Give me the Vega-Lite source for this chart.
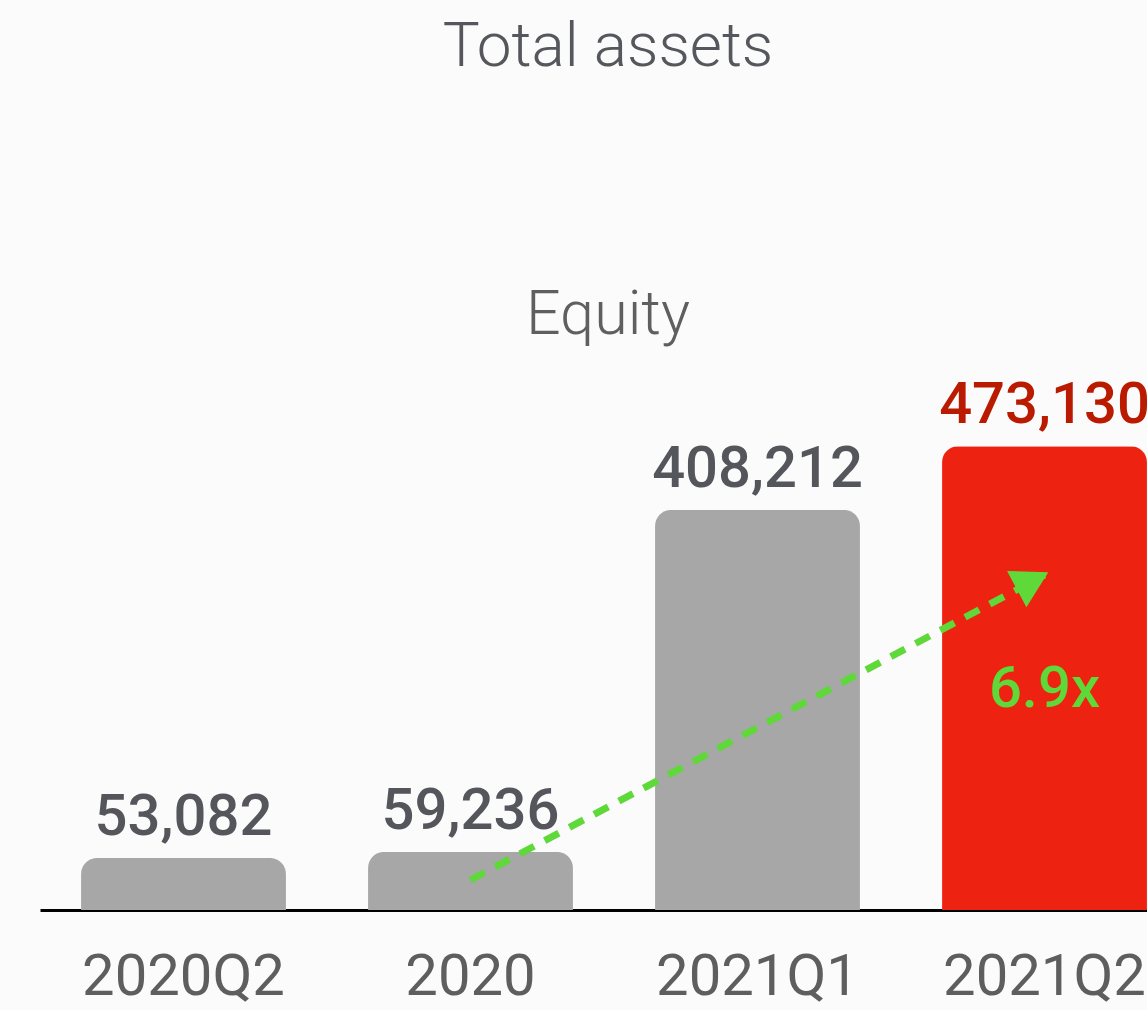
{
  "$schema": "https://vega.github.io/schema/vega-lite/v6.json",
  "width": 1148,
  "height": 530,
  "autosize": {"type": "none"},
  "padding": {"left": 40, "top": 380, "right": 0, "bottom": 100},
  "background": "#fbfbfb",
  "title": {
    "text": "Total assets",
    "subtitle": "Equity",
    "anchor": "middle",
    "frame": "group",
    "font": "Roboto",
    "fontWeight": 300,
    "fontSize": 62,
    "color": "#55575c",
    "subtitleFont": "Roboto",
    "subtitleFontWeight": 300,
    "subtitleFontSize": 61,
    "subtitleColor": "#5f5f5f",
    "subtitlePadding": 207,
    "offset": 30,
    "dx": -6
  },
  "config": {"view": {"stroke": null}},
  "datasets": {
    "bars": [
      {"period": "2020Q2", "equity": 53082},
      {"period": "2020", "equity": 59236},
      {"period": "2021Q1", "equity": 408212},
      {"period": "2021Q2", "equity": 473130}
    ],
    "arrow": [
      {"period": "2020", "value": 30600},
      {"period": "2021Q2", "value": 341800}
    ],
    "head": [{"period": "2021Q2", "value": 336000}],
    "growth": [{"period": "2021Q2", "value": 207100, "label": "6.9x"}]
  },
  "layer": [
    {
      "data": {"name": "bars"},
      "mark": {"type": "bar", "cornerRadiusTopLeft": 16, "cornerRadiusTopRight": 16},
      "encoding": {
        "x": {
          "field": "period",
          "type": "nominal",
          "sort": null,
          "scale": {"domain": ["2020Q2", "2020", "2021Q1", "2021Q2"], "paddingInner": 0.286, "paddingOuter": 0.143},
          "axis": {
            "title": null,
            "labelAngle": 0,
            "labelLimit": 0,
            "ticks": false,
            "domainColor": "#000000",
            "domainWidth": 3,
            "labelFont": "Roboto",
            "labelFontWeight": 400,
            "labelFontSize": 58,
            "labelColor": "#5e5e5e",
            "labelBaseline": "alphabetic",
            "labelPadding": 84
          }
        },
        "y": {
          "field": "equity",
          "type": "quantitative",
          "scale": {"domain": [0, 540800], "nice": false},
          "axis": null
        },
        "color": {
          "condition": {"test": "datum.period === '2021Q2'", "value": "#ee2210"},
          "value": "#a6a7a6"
        }
      }
    },
    {
      "data": {"name": "bars"},
      "mark": {"type": "text", "baseline": "alphabetic", "dy": -23, "font": "Roboto", "fontWeight": 500, "fontSize": 58},
      "encoding": {
        "x": {"field": "period", "type": "nominal", "sort": null},
        "y": {"field": "equity", "type": "quantitative"},
        "text": {"field": "equity", "type": "quantitative", "format": ","},
        "color": {
          "condition": {"test": "datum.period === '2021Q2'", "value": "#b91a00"},
          "value": "#54565c"
        }
      }
    },
    {
      "data": {"name": "arrow"},
      "mark": {"type": "line", "color": "#5fd83a", "strokeWidth": 7, "strokeDash": [16, 12], "strokeCap": "butt"},
      "encoding": {
        "x": {"field": "period", "type": "nominal", "sort": null},
        "y": {"field": "value", "type": "quantitative"}
      }
    },
    {
      "data": {"name": "head"},
      "mark": {"type": "point", "shape": "triangle-right", "filled": true, "opacity": 1, "color": "#5fd83a", "size": 1700, "angle": -28, "xOffset": -12},
      "encoding": {
        "x": {"field": "period", "type": "nominal", "sort": null},
        "y": {"field": "value", "type": "quantitative"}
      }
    },
    {
      "data": {"name": "growth"},
      "mark": {"type": "text", "baseline": "alphabetic", "font": "Roboto", "fontWeight": 500, "fontSize": 58, "color": "#5fd83a"},
      "encoding": {
        "x": {"field": "period", "type": "nominal", "sort": null},
        "y": {"field": "value", "type": "quantitative"},
        "text": {"field": "label", "type": "nominal"}
      }
    }
  ]
}
